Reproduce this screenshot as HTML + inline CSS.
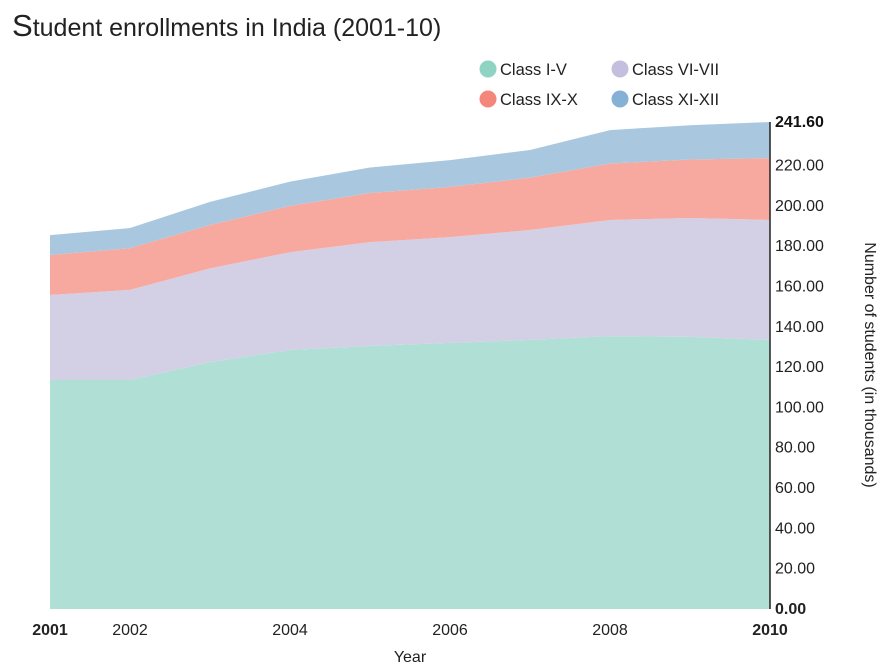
<!DOCTYPE html>
<html><head><meta charset="utf-8"><style>
body{margin:0;background:#fff;font-family:"Liberation Sans",sans-serif;}
svg text{font-family:"Liberation Sans",sans-serif;}
</style></head><body>
<svg id="chart" width="882" height="665">
<text x="12" y="36" font-size="25" fill="#222"><tspan font-size="31">S</tspan>tudent enrollments in India (2001-10)</text>
<g id="legend"></g>
<g id="areas"></g>
<g id="axes"></g>
<text x="410" y="662" font-size="16" text-anchor="middle" fill="#222">Year</text>
<text transform="translate(865,365) rotate(90)" font-size="16" text-anchor="middle" fill="#222">Number of students (in thousands)</text>
</svg>
<script>
const years=[2001,2002,2003,2004,2005,2006,2007,2008,2009,2010];
const seriesNames=["Class I-V","Class VI-VII","Class IX-X","Class XI-XII"];
const classIV=[113.6,113.6,122.5,128.5,130.5,132,133.5,135.4,135,133.5];
const classVIVII=[42.2,44.7,46.5,48.5,51.5,52.5,54.5,57.6,59,59.5];
const classIXX=[19.8,20.7,21.5,23,24.4,24.9,26,28,29,30.7];
const classXIXII=[9.9,10,11.5,12,12.6,13.3,13.7,16.6,17,17.9];
const yTicks=[0,20,40,60,80,100,120,140,160,180,200,220];
const xTicks=[2001,2002,2004,2006,2008,2010];
const fills=["#b0dfd6","#d3d0e6","#f8a99f","#a9c8df"];
const dots=["#8fd3c3","#c4bedf","#f4877b","#86b1d6"];
const series=[classIV,classVIVII,classIXX,classXIXII];
const yMax=241.6;
const NS="http://www.w3.org/2000/svg";
function X(yr){return 50+(yr-2001)*(720/9);}
function Y(v){return 609-v*(487/yMax);}
function mk(tag,attrs,parent){const e=document.createElementNS(NS,tag);for(const k in attrs)e.setAttribute(k,attrs[k]);parent.appendChild(e);return e;}
const areas=document.getElementById('areas');
let base=years.map(()=>0);
series.forEach((s,i)=>{
  const top=base.map((b,j)=>b+s[j]);
  let d="M"+years.map((yr,j)=>X(yr)+","+Y(top[j])).join("L");
  for(let j=years.length-1;j>=0;j--)d+="L"+X(years[j])+","+Y(base[j]);
  const p=mk('path',{d:d+"Z",fill:fills[i]},areas);
  
  
  base=top;
});
const axes=document.getElementById('axes');
const al=mk('line',{x1:770,y1:Y(yMax),x2:770,y2:Y(0),stroke:"#222","stroke-width":1.5},axes);


yTicks.forEach(v=>{
  const t=mk('text',{x:775,y:Y(v)+5,"font-size":16,fill:"#222","font-weight":v===0?"bold":"normal"},axes);
  t.textContent=v.toFixed(2);
  
  
});
const tt=mk('text',{x:775,y:Y(yMax)+5,"font-size":16,fill:"#111","font-weight":"bold"},axes);
tt.textContent=yMax.toFixed(2);


xTicks.forEach(yr=>{
  const b=(yr===2001||yr===2010);
  const t=mk('text',{x:X(yr),y:635,"font-size":16,fill:"#222","text-anchor":"middle","font-weight":b?"bold":"normal"},axes);
  t.textContent=yr;
  
  
});
const lg=document.getElementById('legend');
const lpos=[[488,69],[620,69],[488,99],[620,99]];
seriesNames.forEach((n,i)=>{
  const g=mk('g',{},lg);
  
  
  mk('circle',{cx:lpos[i][0],cy:lpos[i][1],r:8.5,fill:dots[i]},g);
  const t=mk('text',{x:lpos[i][0]+12,y:lpos[i][1]+6,"font-size":16.5,fill:"#222"},g);
  t.textContent=n;
});
</script>
</body></html>
